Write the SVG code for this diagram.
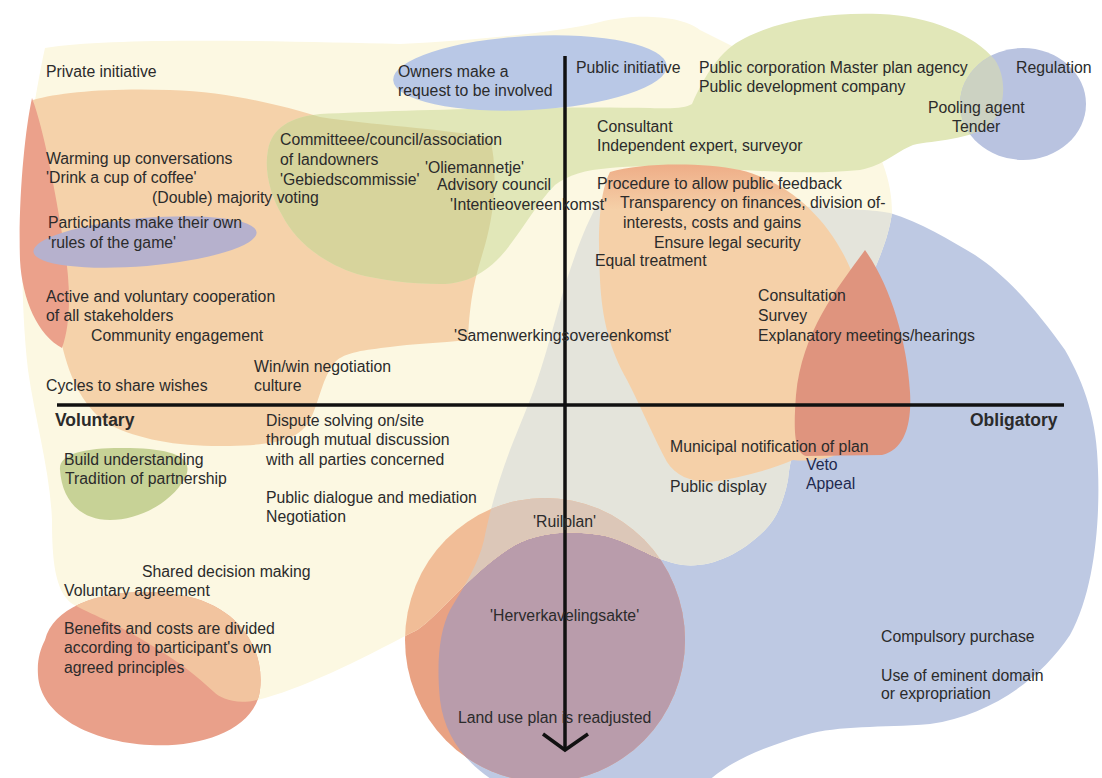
<svg xmlns="http://www.w3.org/2000/svg" xmlns:xlink="http://www.w3.org/1999/xlink" width="1102" height="778" viewBox="0 0 1102 778">
<style>
.t{font-family:"Liberation Sans",Arial,sans-serif;font-size:15.8px;fill:#2b2b2b}
.b{font-family:"Liberation Sans",Arial,sans-serif;font-size:17.5px;font-weight:bold;fill:#2b2b2b}
.n{fill:#1f2a4f}
.ax{stroke:#111;stroke-width:3.5;fill:none}
</style>
<defs>
<path id="pC" d="M45,48 C120,36 300,42 400,44 C480,40 560,32 600,22 C630,14 680,14 700,30 L760,60 L860,120 C880,150 892,180 892,212 C888,250 860,300 835,350 C810,400 792,440 788,480 C783,505 775,520 765,530 C740,555 710,568 683,565 C650,560 630,540 600,535 C570,530 540,532 515,545 C490,560 470,580 450,600 C430,620 420,630 411,633 C360,660 300,690 257,700 C235,705 220,698 214,692 C180,660 150,645 143,640 C110,620 85,612 71,603 C55,590 52,560 52,520 C50,470 35,420 28,370 C20,300 20,200 30,130 C35,100 40,70 45,48 Z"/>
<path id="pB" d="M600,200 C680,203 760,205 813,207 C850,209 875,210 890,213 C920,222 950,240 975,255 C1010,278 1040,315 1065,350 C1085,385 1097,420 1098,470 C1100,520 1095,590 1070,635 C1040,680 990,715 930,724 C880,728 840,725 805,735 C760,748 720,765 700,790 L510,790 C470,770 445,740 440,700 C436,660 440,630 450,610 C465,585 478,565 484,540 C488,520 495,490 510,450 C520,425 528,405 532,395 C545,360 555,320 565,285 C575,255 585,225 600,200 Z"/>
<ellipse id="pS" cx="545" cy="640" rx="140" ry="142"/>
<path id="pG" d="M268,150 C272,128 290,117 320,114 C400,110 560,106 650,108 C675,109 685,108 692,104 C705,75 720,50 745,38 C780,20 830,12 880,14 C930,16 975,35 995,60 C1008,80 1005,110 990,125 C970,140 935,140 913,145 C895,152 885,165 860,170 C820,174 780,172 740,170 C690,167 640,165 610,168 C585,170 568,175 555,185 C535,205 520,235 500,257 C480,278 460,284 440,284 C410,284 380,280 357,274 C320,262 295,240 282,215 C270,195 264,170 268,150 Z"/>
<path id="pP1" d="M33,100 C60,92 110,88 170,90 C230,92 280,105 320,117 C370,125 440,128 490,138 C498,170 495,210 485,245 C478,270 470,290 468,340 C440,343 410,344 390,347 C365,350 345,352 335,362 C322,378 320,400 310,420 C300,438 280,445 230,446 C180,447 140,440 110,425 C85,410 70,380 62,345 C55,300 45,240 40,180 C37,140 34,115 33,100 Z"/>
<path id="pBL" d="M45,640 C55,600 120,585 180,595 C240,605 265,650 260,690 C255,730 200,748 150,745 C90,742 40,715 38,675 C37,660 40,650 45,640 Z"/>
<ellipse id="pBR" cx="1023" cy="104" rx="63" ry="56"/>
<clipPath id="cB"><use xlink:href="#pB"/></clipPath>
<clipPath id="cC"><use xlink:href="#pC"/></clipPath>
<clipPath id="cP1"><use xlink:href="#pP1"/></clipPath>
<clipPath id="cG"><use xlink:href="#pG"/></clipPath>
<linearGradient id="gP2" gradientUnits="userSpaceOnUse" x1="0" y1="163" x2="0" y2="210">
<stop offset="0" stop-color="#eeac86"/><stop offset="1" stop-color="#f5d0a8"/>
</linearGradient>
</defs>

<g id="blobs">
<use xlink:href="#pB" fill="#bec9e3"/>
<use xlink:href="#pS" fill="#e9a283"/>
<use xlink:href="#pS" fill="#b99cab" clip-path="url(#cB)"/>
<use xlink:href="#pC" fill="#fcf8e2"/>
<use xlink:href="#pC" fill="#e4e4db" clip-path="url(#cB)"/>
<use xlink:href="#pS" fill="#f1bd97" clip-path="url(#cC)"/>
<g clip-path="url(#cC)"><use xlink:href="#pS" fill="#dcc7b8" clip-path="url(#cB)"/></g>
<use xlink:href="#pBL" fill="#e9a08a"/>
<use xlink:href="#pBL" fill="#f2c49f" clip-path="url(#cC)"/>
<use xlink:href="#pP1" fill="#f5d2aa"/>
<path id="r1" d="M32,98 C25,130 18,200 20,260 C22,300 38,335 62,348 C72,320 70,280 64,245 C55,190 44,130 32,98 Z" fill="#eba18b"/>
<use xlink:href="#pG" fill="#e1e7b8"/>
<use xlink:href="#pG" fill="#d7d49c" clip-path="url(#cP1)"/>
<ellipse id="bo" cx="530" cy="73" rx="137" ry="37" transform="rotate(-3 530 73)" fill="#b9c8e6"/>
<use xlink:href="#pBR" fill="#b9c3e0"/>
<use xlink:href="#pBR" fill="#ccd2c2" clip-path="url(#cG)"/>
<path id="p2" d="M610,172 C640,163 700,162 740,170 C790,182 830,220 851,270 C870,320 880,400 860,440 C840,460 810,462 793,460 C770,470 740,478 710,482 C690,482 675,475 667,462 C655,440 640,405 627,380 C610,350 602,320 600,280 C598,240 598,195 610,172 Z" fill="url(#gP2)"/>
<path id="r2" d="M865,250 C840,285 802,330 796,395 C793,435 795,452 806,456 L882,455 C904,450 912,425 910,392 C907,340 890,285 865,250 Z" fill="#df947e"/>
<ellipse id="pu" cx="145" cy="242" rx="112" ry="24" transform="rotate(-5 145 242)" fill="#b6b1cd"/>
<path id="gn" d="M60,470 C58,452 90,447 130,448 C175,449 195,458 185,478 C172,502 140,520 110,520 C80,520 62,500 60,470 Z" fill="#c7d296"/>
</g>

<g id="axes">
<line class="ax" x1="57" y1="405" x2="1064" y2="405"/>
<line class="ax" x1="565" y1="56" x2="565" y2="750"/>
<polyline class="ax" points="543,734 565,750 588,734"/>
</g>

<g id="labels-top-left">
<text class="t" x="46" y="77">Private initiative</text>
<text class="t" x="398" y="77">Owners make a</text>
<text class="t" x="398" y="96">request to be involved</text>
<text class="t" x="280" y="145">Committeee/council/association</text>
<text class="t" x="280" y="165">of landowners</text>
<text class="t" x="280" y="185">'Gebiedscommissie'</text>
<text class="t" x="425" y="173">'Oliemannetje'</text>
<text class="t" x="437" y="190">Advisory council</text>
<text class="t" x="450" y="210">'Intentieovereenkomst'</text>
<text class="t" x="46" y="164">Warming up conversations</text>
<text class="t" x="46" y="183">'Drink a cup of coffee'</text>
<text class="t" x="152" y="203">(Double) majority voting</text>
<text class="t" x="48" y="228">Participants make their own</text>
<text class="t" x="48" y="248">'rules of the game'</text>
<text class="t" x="46" y="302">Active and voluntary cooperation</text>
<text class="t" x="46" y="321">of all stakeholders</text>
<text class="t" x="91" y="341">Community engagement</text>
<text class="t" x="454" y="341">'Samenwerkingsovereenkomst'</text>
<text class="t" x="254" y="372">Win/win negotiation</text>
<text class="t" x="254" y="391">culture</text>
<text class="t" x="46" y="391">Cycles to share wishes</text>
</g>

<g id="labels-top-right">
<text class="t" x="576" y="73">Public initiative</text>
<text class="t" x="699" y="73">Public corporation  Master plan agency</text>
<text class="t" x="699" y="92">Public development company</text>
<text class="t" x="1016" y="73">Regulation</text>
<text class="t" x="928" y="113">Pooling agent</text>
<text class="t" x="952" y="132">Tender</text>
<text class="t" x="597" y="132">Consultant</text>
<text class="t" x="597" y="151">Independent expert, surveyor</text>
<text class="t" x="597" y="189">Procedure to allow public feedback</text>
<text class="t" x="620" y="208">Transparency on finances, division of-</text>
<text class="t" x="623" y="228">interests, costs and gains</text>
<text class="t" x="654" y="248">Ensure legal security</text>
<text class="t" x="595" y="266">Equal treatment</text>
<text class="t" x="758" y="301">Consultation</text>
<text class="t" x="758" y="321">Survey</text>
<text class="t" x="758" y="341">Explanatory meetings/hearings</text>
</g>

<g id="labels-axes">
<text class="b" x="55" y="426">Voluntary</text>
<text class="b" x="970" y="426">Obligatory</text>
</g>

<g id="labels-bottom-left">
<text class="t" x="266" y="426">Dispute solving on/site</text>
<text class="t" x="266" y="445">through mutual discussion</text>
<text class="t" x="266" y="465">with all parties concerned</text>
<text class="t" x="64" y="465">Build understanding</text>
<text class="t" x="65" y="484">Tradition of partnership</text>
<text class="t" x="266" y="503">Public dialogue and mediation</text>
<text class="t" x="266" y="522">Negotiation</text>
<text class="t" x="142" y="577">Shared decision making</text>
<text class="t" x="64" y="596">Voluntary agreement</text>
<text class="t" x="64" y="634">Benefits and costs are divided</text>
<text class="t" x="64" y="653">according to participant's own</text>
<text class="t" x="64" y="673">agreed principles</text>
<text class="t" x="533" y="527">'Ruilplan'</text>
<text class="t" x="490" y="621">'Herverkavelingsakte'</text>
<text class="t" x="458" y="723">Land use plan is readjusted</text>
</g>

<g id="labels-bottom-right">
<text class="t" x="670" y="452">Municipal notification of plan</text>
<text class="t n" x="806" y="470">Veto</text>
<text class="t n" x="806" y="489">Appeal</text>
<text class="t" x="670" y="492">Public display</text>
<text class="t" x="881" y="642">Compulsory purchase</text>
<text class="t" x="881" y="681">Use of eminent domain</text>
<text class="t" x="881" y="699">or expropriation</text>
</g>
</svg>
